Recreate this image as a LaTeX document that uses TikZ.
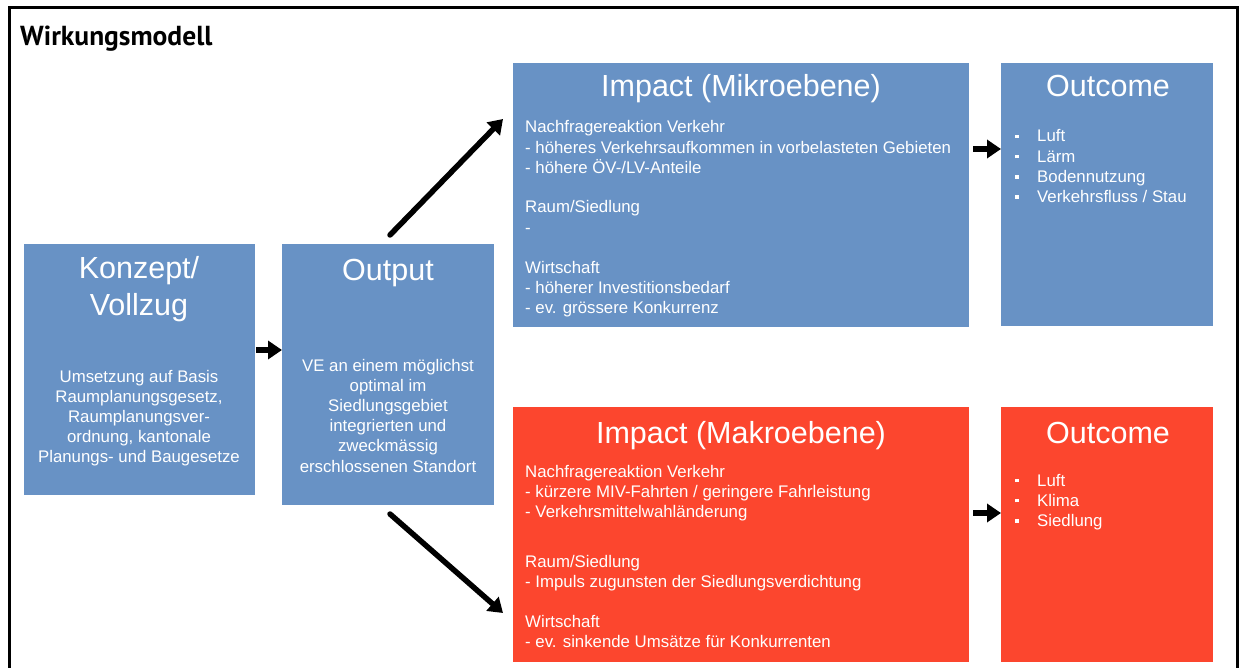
\documentclass[tikz,border=0pt]{standalone}
\usepackage{fontspec}
\setmainfont{Liberation Sans}
\newfontfamily\titlefont{PT Sans}
\usetikzlibrary{arrows.meta}

\definecolor{boxblue}{HTML}{6892C5}
\definecolor{boxred}{HTML}{FC462E}

% text sizes (1pt = 1 px of the final picture)
\newcommand\headfont{\fontsize{30.5}{37}\selectfont}
\newcommand\bodyfont{\fontsize{16.8}{20.2}\selectfont}
\newcommand\bul{\makebox[22pt][l]{\rule[3.8pt]{3.6pt}{3.6pt}}}
\newcommand\leftlines[1]{\begin{tabular}[t]{@{}l@{}}#1\end{tabular}}
\newcommand\midlines[1]{\begin{tabular}[t]{@{}c@{}}#1\end{tabular}}

\begin{document}
\begin{tikzpicture}[x=1pt,y=-1pt,
  panel/.style={rectangle,draw=none,inner sep=0pt,outer sep=0pt,anchor=north west},
  headtext/.style={inner sep=0pt,text=white,font=\headfont,anchor=base},
  bodytext/.style={inner sep=0pt,text=white,font=\bodyfont,anchor=base west},
  bodymid/.style={inner sep=0pt,text=white,font=\bodyfont,anchor=base},
  arr/.style={line width=5.5pt,line cap=round,-{Triangle[length=14pt,width=18pt]}}]

\useasboundingbox (0,0) rectangle (1239,668);

% frame and title
\draw[line width=3pt] (9.5,668) -- (9.5,7.5) -- (1237.5,7.5) -- (1237.5,668);
\node[inner sep=0pt,anchor=base west,font=\titlefont\bfseries\fontsize{27.5}{32}\selectfont]
  (title) at (20,46) {Wirkungsmodell};

% panels
\node[panel,fill=boxblue,minimum width=231pt,minimum height=251pt] (konzept) at (24,244) {};
\node[panel,fill=boxblue,minimum width=212pt,minimum height=261pt] (output) at (282,244) {};
\node[panel,fill=boxblue,minimum width=456pt,minimum height=264pt] (mikro) at (513,63) {};
\node[panel,fill=boxblue,minimum width=212pt,minimum height=263pt] (outmikro) at (1001,63) {};
\node[panel,fill=boxred,minimum width=456pt,minimum height=255pt] (makro) at (513,407) {};
\node[panel,fill=boxred,minimum width=212pt,minimum height=255pt] (outmakro) at (1001,407) {};

% Konzept / Vollzug
\node[headtext] (konzepthead) at (139,279) {\midlines{Konzept/\\Vollzug}};
\node[bodymid] (konzeptbody) at (139,382) {\midlines{Umsetzung auf Basis\\Raumplanungsgesetz,\\Raumplanungsver-\\ordnung, kantonale\\Planungs- und Baugesetze}};

% Output
\node[headtext] (outputhead) at (388,280) {Output};
\node[bodymid] (outputbody) at (388,371) {\midlines{VE an einem möglichst\\optimal im\\Siedlungsgebiet\\integrierten und\\zweckmässig\\erschlossenen Standort}};

% Impact (Mikroebene)
\node[headtext] (mikrohead) at (741,97) {Impact (Mikroebene)};
\node[bodytext] (mikro1) at (525,133) {\leftlines{Nachfragereaktion Verkehr\\- höheres Verkehrsaufkommen in vorbelasteten Gebieten\\- höhere ÖV-/LV-Anteile}};
\node[bodytext] (mikro2) at (525,213) {\leftlines{Raum/Siedlung\\-}};
\node[bodytext] (mikro3) at (525,273) {\leftlines{Wirtschaft\\- höherer Investitionsbedarf\\- ev. grössere Konkurrenz}};

% Outcome (Mikroebene)
\node[headtext] (outmikrohead) at (1108,97) {Outcome};
\node[bodytext] (outmikrolist) at (1015,142) {\leftlines{\bul Luft\\\bul Lärm\\\bul Bodennutzung\\\bul Verkehrsfluss / Stau}};

% Impact (Makroebene)
\node[headtext] (makrohead) at (741,443) {Impact (Makroebene)};
\node[bodytext] (makro1) at (525,477) {\leftlines{Nachfragereaktion Verkehr\\- kürzere MIV-Fahrten / geringere Fahrleistung\\- Verkehrsmittelwahländerung}};
\node[bodytext] (makro2) at (525,567) {\leftlines{Raum/Siedlung\\- Impuls zugunsten der Siedlungsverdichtung}};
\node[bodytext] (makro3) at (525,627) {\leftlines{Wirtschaft\\- ev. sinkende Umsätze für Konkurrenten}};

% Outcome (Makroebene)
\node[headtext] (outmakrohead) at (1108,443) {Outcome};
\node[bodytext] (outmakrolist) at (1015,486) {\leftlines{\bul Luft\\\bul Klima\\\bul Siedlung}};

% connectors
\coordinate (ka) at (256,350);
\coordinate (ma) at (973,149);
\coordinate (na) at (973,513);
\coordinate (up0) at (390,235);
\coordinate (up1) at (503,119);
\coordinate (dn0) at (390,514);
\coordinate (dn1) at (503,613);
\draw[arr,line cap=butt] (ka) -- (ka -| output.west);
\draw[arr,line cap=butt] (ma) -- (ma -| outmikro.west);
\draw[arr,line cap=butt] (na) -- (na -| outmakro.west);
\draw[arr] (up0) -- (up1);
\draw[arr] (dn0) -- (dn1);
\end{tikzpicture}
\end{document}
